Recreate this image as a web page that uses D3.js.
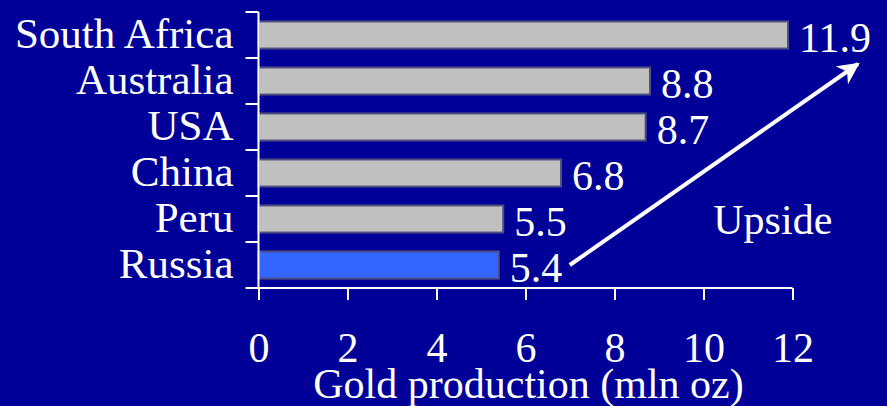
<!DOCTYPE html>
<html>
<head>
<meta charset="utf-8">
<script src="https://cdn.jsdelivr.net/npm/d3@7"></script>
<style>
  html, body { margin: 0; padding: 0; background: #000099; }
  svg { display: block; }
  text { font-family: "Liberation Serif", "Times New Roman", serif; fill: #ffffff; }
</style>
</head>
<body>
<svg id="chart" width="887" height="406"></svg>
<script>
// Gold production by country (mln oz)
const countries = ["South Africa", "Australia", "USA", "China", "Peru", "Russia"];
const production = [11.9, 8.8, 8.7, 6.8, 5.5, 5.4];
const xTicks = [0, 2, 4, 6, 8, 10, 12];
const highlighted = "Russia";
const axisTitle = "Gold production (mln oz)";
const noteText = "Upside";

const W = 887, H = 406;
const margin = { top: 12, right: 94.5, bottom: 118, left: 258.5 };
const innerW = W - margin.left - margin.right;
const innerH = H - margin.top - margin.bottom;

const svg = d3.select("#chart");
svg.append("rect").attr("width", W).attr("height", H).attr("fill", "#000099");

const g = svg.append("g").attr("transform", `translate(${margin.left},${margin.top})`);

const x = d3.scaleLinear().domain([0, 12]).range([0, innerW]);
const y = d3.scaleBand().domain(countries).range([0, innerH]).paddingInner(0.41).paddingOuter(0.205);

const rows = countries.map((c, i) => ({ country: c, value: production[i] }));

// bars
g.selectAll("rect.bar")
  .data(rows)
  .join("rect")
  .attr("class", "bar")
  .attr("x", 0)
  .attr("y", d => y(d.country))
  .attr("width", d => x(d.value))
  .attr("height", y.bandwidth())
  .attr("fill", d => d.country === highlighted ? "#3366ff" : "#c0c0c0")
  .attr("stroke", "#4d4d80")
  .attr("stroke-width", 2);

// value labels
g.selectAll("text.value")
  .data(rows)
  .join("text")
  .attr("class", "value")
  .attr("x", d => x(d.value) + 11)
  .attr("y", d => y(d.country) + y.bandwidth() / 2 + 17)
  .attr("font-size", 42)
  .text(d => d.value.toFixed(1));

// category axis: band boundaries get the tick marks
const step = y.step();
const yAxisG = g.append("g");
yAxisG.append("line")
  .attr("x1", 0).attr("x2", 0).attr("y1", 0).attr("y2", innerH)
  .attr("stroke", "#fff").attr("stroke-width", 2);
yAxisG.selectAll("line.ytick")
  .data(d3.range(countries.length + 1))
  .join("line")
  .attr("class", "ytick")
  .attr("x1", -13).attr("x2", 0)
  .attr("y1", i => i * step).attr("y2", i => i * step)
  .attr("stroke", "#fff").attr("stroke-width", 2);
yAxisG.selectAll("text.cat")
  .data(countries)
  .join("text")
  .attr("class", "cat")
  .attr("x", -25)
  .attr("y", d => y(d) + y.bandwidth() / 2 + 13)
  .attr("text-anchor", "end")
  .attr("font-size", 43)
  .text(d => d);

// value axis
const xAxis = d3.axisBottom(x).tickValues(xTicks).tickSize(12).tickPadding(24).tickFormat(d3.format("d"));
const xAxisG = g.append("g")
  .attr("transform", `translate(0,${innerH})`)
  .call(xAxis);
xAxisG.select(".domain").remove();
xAxisG.append("line")
  .attr("x1", 0).attr("x2", innerW).attr("y1", 0).attr("y2", 0)
  .attr("stroke", "#fff").attr("stroke-width", 2);
xAxisG.selectAll(".tick line").attr("stroke", "#fff").attr("stroke-width", 2);
xAxisG.selectAll(".tick text")
  .attr("fill", "#fff")
  .attr("font-family", "Liberation Serif, Times New Roman, serif")
  .attr("font-size", 42)
  .attr("dy", null)
  .attr("y", 73.7);

// axis title
g.append("text")
  .attr("x", innerW / 2 + 3)
  .attr("y", innerH + 110)
  .attr("text-anchor", "middle")
  .attr("font-size", 42)
  .text(axisTitle);

// upside arrow from the smallest producer towards the leader
const last = rows[rows.length - 1];
const defs = svg.append("defs");
defs.append("marker")
  .attr("id", "head")
  .attr("viewBox", "0 0 10 10")
  .attr("refX", 9).attr("refY", 5)
  .attr("markerWidth", 5.5).attr("markerHeight", 5.5)
  .attr("orient", "auto")
  .append("path")
  .attr("d", "M0,0 L10,5 L0,10 L3,5 Z")
  .attr("fill", "#fff");

g.append("line")
  .attr("x1", x(last.value) + 71)
  .attr("y1", y(last.country) + y.bandwidth() / 2)
  .attr("x2", x(13.47))
  .attr("y2", y(countries[0]) + y.bandwidth() / 2 + 29)
  .attr("stroke", "#fff")
  .attr("stroke-width", 4)
  .attr("marker-end", "url(#head)");

g.append("text")
  .attr("x", x(10.22))
  .attr("y", y("Peru") + y.bandwidth() / 2 + 15)
  .attr("font-size", 42)
  .text(noteText);
</script>
</body>
</html>
